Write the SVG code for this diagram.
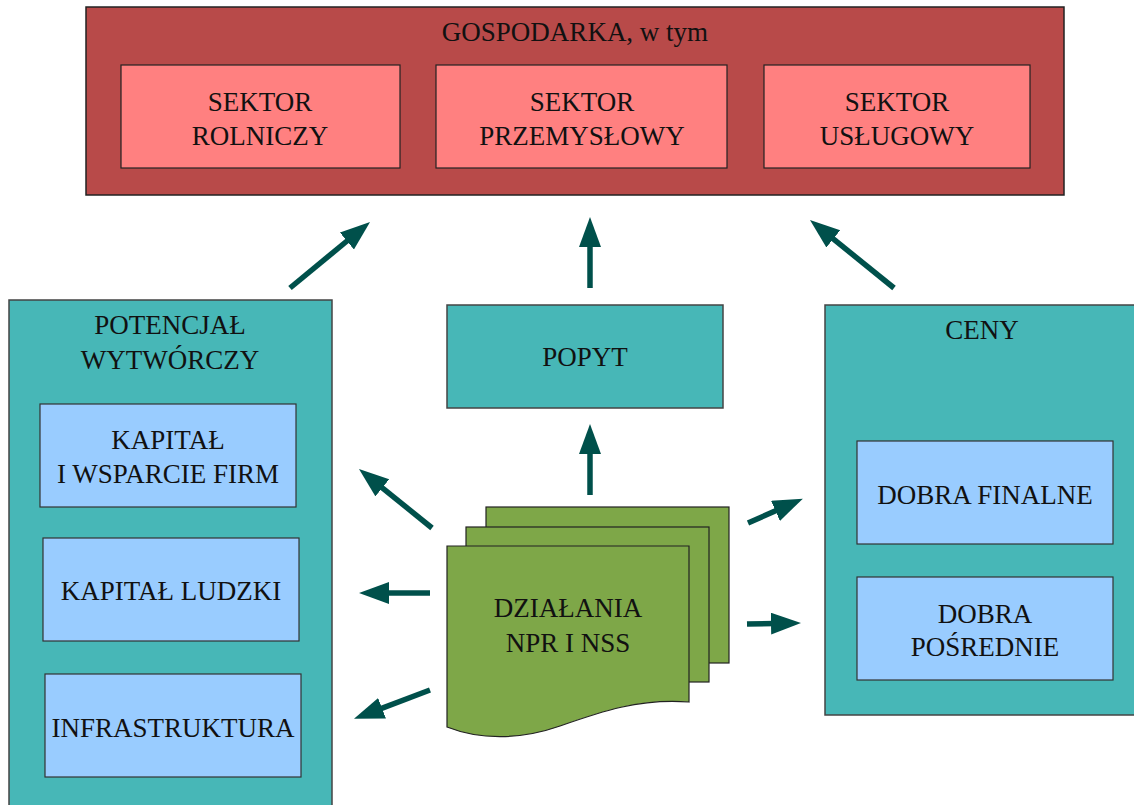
<svg xmlns="http://www.w3.org/2000/svg" width="1134" height="805" viewBox="0 0 1134 805">
<style>
text{font-family:"Liberation Serif","Times New Roman",serif;font-size:27px;fill:#111;text-anchor:middle}
.eco{fill:#b84a49;stroke:#222;stroke-width:1.5}
.sec{fill:#ff8080;stroke:#222;stroke-width:1.2}
.teal{fill:#47b7b7;stroke:#444;stroke-width:1.5}
.blue{fill:#99ccff;stroke:#333;stroke-width:1.2}
.doc{fill:#7ea748;stroke:#222;stroke-width:1.2}
.arr{stroke:#00504b;stroke-width:5.5;fill:none;marker-end:url(#ah)}
</style>
<defs>
<marker id="ah" markerUnits="userSpaceOnUse" markerWidth="32" markerHeight="24" refX="4" refY="11" orient="auto">
<path d="M0,0 L30,11 L0,22 z" fill="#00504b"/>
</marker>
</defs>
<g id="gospodarka">
<rect class="eco" x="86" y="7" width="978" height="188"/>
<text x="575" y="41">GOSPODARKA, w tym</text>
</g>
<g id="sektor-rolniczy">
<rect class="sec" x="121" y="65" width="279" height="103"/>
<text x="260" y="111">SEKTOR</text>
<text x="260" y="145">ROLNICZY</text>
</g>
<g id="sektor-przemyslowy">
<rect class="sec" x="436" y="65" width="291" height="103"/>
<text x="582" y="111">SEKTOR</text>
<text x="582" y="145">PRZEMYSŁOWY</text>
</g>
<g id="sektor-uslugowy">
<rect class="sec" x="764" y="65" width="266" height="103"/>
<text x="897" y="111">SEKTOR</text>
<text x="897" y="145">USŁUGOWY</text>
</g>
<g id="potencjal">
<rect class="teal" x="9" y="300" width="323" height="515"/>
<text x="170" y="334">POTENCJAŁ</text>
<text x="170" y="369">WYTWÓRCZY</text>
</g>
<g id="kapital-wsparcie">
<rect class="blue" x="40" y="404" width="256" height="103"/>
<text x="168" y="449">KAPITAŁ</text>
<text x="168" y="483">I WSPARCIE FIRM</text>
</g>
<g id="kapital-ludzki">
<rect class="blue" x="43" y="538" width="256" height="103"/>
<text x="171" y="600">KAPITAŁ LUDZKI</text>
</g>
<g id="infrastruktura">
<rect class="blue" x="45" y="674" width="256" height="103"/>
<text x="173" y="737">INFRASTRUKTURA</text>
</g>
<g id="popyt">
<rect class="teal" x="447" y="305" width="276" height="103"/>
<text x="585" y="366">POPYT</text>
</g>
<g id="ceny">
<rect class="teal" x="825" y="305" width="315" height="410"/>
<text x="982" y="339">CENY</text>
</g>
<g id="dobra-finalne">
<rect class="blue" x="857" y="441" width="256" height="103"/>
<text x="985" y="504">DOBRA FINALNE</text>
</g>
<g id="dobra-posrednie">
<rect class="blue" x="857" y="577" width="256" height="103"/>
<text x="985" y="623">DOBRA</text>
<text x="985" y="656">POŚREDNIE</text>
</g>
<g id="dzialania">
<rect class="doc" x="486" y="507" width="243" height="156"/>
<rect class="doc" x="466" y="527" width="243" height="155"/>
<path class="doc" d="M447,546 H689 V702 C640,698 600,712 560,726 C520,740 480,740 447,727 Z"/>
<text x="568" y="617">DZIAŁANIA</text>
<text x="568" y="652">NPR I NSS</text>
</g>
<g id="connectors">
<line class="arr" x1="290" y1="288" x2="350" y2="238.5"/>
<line class="arr" x1="590" y1="288" x2="590" y2="243"/>
<line class="arr" x1="894" y1="288" x2="830.2" y2="236.4"/>
<line class="arr" x1="432" y1="528" x2="379.2" y2="485.3"/>
<line class="arr" x1="430" y1="593" x2="385" y2="593"/>
<line class="arr" x1="430" y1="690" x2="378.3" y2="709.6"/>
<line class="arr" x1="590" y1="495" x2="590" y2="450"/>
<line class="arr" x1="748" y1="523" x2="779.1" y2="509.2"/>
<line class="arr" x1="747" y1="624" x2="775" y2="623.5"/>
</g>
</svg>
